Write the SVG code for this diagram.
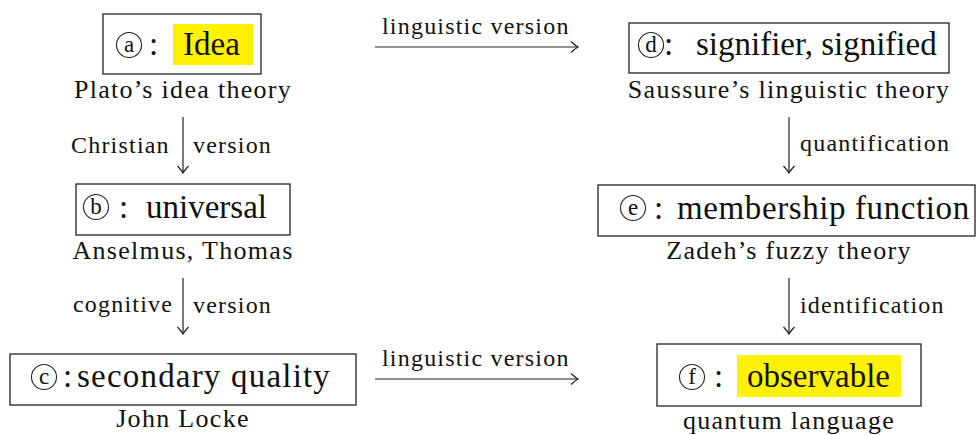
<svg xmlns="http://www.w3.org/2000/svg" width="976" height="435" viewBox="0 0 976 435">
<style>
.main{font-size:33px;font-family:"Liberation Serif",serif !important;fill:#111}
.sub{font-size:26px;text-anchor:middle;font-family:"Liberation Serif",serif !important;fill:#111;letter-spacing:1.3px}
.lbl{font-size:24px;font-family:"Liberation Serif",serif !important;fill:#111;letter-spacing:1.2px}
.cl{font-size:23px;text-anchor:middle;font-family:"Liberation Serif",serif !important;fill:#111}
.box{fill:#fff;stroke:#222;stroke-width:1.3}
.hl{fill:#fff200}
.circ{fill:none;stroke:#222;stroke-width:1.1}
.conn{stroke:#222;stroke-width:1.2;fill:none}
</style>
<defs>
<marker id="ah" markerUnits="userSpaceOnUse" markerWidth="16" markerHeight="16" viewBox="-10 -8 12 16" refX="0" refY="0" orient="auto">
<path d="M-7,-5.5 Q-2,-1 0,0 Q-2,1 -7,5.5" fill="none" stroke="#222" stroke-width="1.2"/>
</marker>
</defs>
<g font-family="Liberation Serif">
<g id="connectors">
<line class="conn" x1="375" y1="47" x2="578" y2="47" marker-end="url(#ah)"/>
<text class="lbl" font-family="Liberation Serif" x="382" y="34">linguistic version</text>
<line class="conn" x1="375" y1="379" x2="578" y2="379" marker-end="url(#ah)"/>
<text class="lbl" font-family="Liberation Serif" x="382" y="366">linguistic version</text>
<line class="conn" x1="183" y1="117" x2="183" y2="173" marker-end="url(#ah)"/>
<text class="lbl" font-family="Liberation Serif" x="71" y="153">Christian</text>
<text class="lbl" font-family="Liberation Serif" x="193" y="153">version</text>
<line class="conn" x1="183" y1="278" x2="183" y2="334" marker-end="url(#ah)"/>
<text class="lbl" font-family="Liberation Serif" x="73" y="312">cognitive</text>
<text class="lbl" font-family="Liberation Serif" x="193" y="313">version</text>
<line class="conn" x1="789" y1="117" x2="789" y2="173" marker-end="url(#ah)"/>
<text class="lbl" font-family="Liberation Serif" x="800" y="151">quantification</text>
<line class="conn" x1="789" y1="278" x2="789" y2="334" marker-end="url(#ah)"/>
<text class="lbl" font-family="Liberation Serif" x="800" y="313">identification</text>
</g>
<g id="node-a">
<rect class="box" x="103" y="14" width="158" height="60"/>
<rect class="hl" x="173" y="24" width="80" height="41"/>
<circle class="circ" cx="129" cy="45" r="12.5"/>
<text class="cl" font-family="Liberation Serif" x="129" y="52">a</text>
<text class="main" font-family="Liberation Serif" x="149" y="55">:</text>
<text class="main" font-family="Liberation Serif" x="183" y="55">Idea</text>
<text class="sub" font-family="Liberation Serif" x="183" y="98">Plato’s idea theory</text>
</g>
<g id="node-b">
<rect class="box" x="76" y="184" width="214" height="51"/>
<circle class="circ" cx="96" cy="207" r="12.5"/>
<text class="cl" font-family="Liberation Serif" x="96" y="214">b</text>
<text class="main" font-family="Liberation Serif" x="119" y="218">:</text>
<text class="main" font-family="Liberation Serif" x="146" y="218">universal</text>
<text class="sub" font-family="Liberation Serif" x="183" y="259">Anselmus, Thomas</text>
</g>
<g id="node-c">
<rect class="box" x="10" y="354" width="346" height="51"/>
<circle class="circ" cx="44" cy="377" r="12.5"/>
<text class="cl" font-family="Liberation Serif" x="44" y="384">c</text>
<text class="main" font-family="Liberation Serif" x="63" y="387">:</text>
<text class="main" font-family="Liberation Serif" x="77" y="387" style="letter-spacing:1.2px">secondary quality</text>
<text class="sub" font-family="Liberation Serif" x="183" y="427">John Locke</text>
</g>
<g id="node-d">
<rect class="box" x="629" y="23" width="320" height="50"/>
<circle class="circ" cx="651" cy="45" r="12.5"/>
<text class="cl" font-family="Liberation Serif" x="651" y="52">d</text>
<text class="main" font-family="Liberation Serif" x="664" y="55">:</text>
<text class="main" font-family="Liberation Serif" x="696" y="55">signifier, signified</text>
<text class="sub" font-family="Liberation Serif" x="789" y="98">Saussure’s linguistic theory</text>
</g>
<g id="node-e">
<rect class="box" x="598" y="185" width="377" height="51"/>
<circle class="circ" cx="633" cy="208" r="12.5"/>
<text class="cl" font-family="Liberation Serif" x="633" y="215">e</text>
<text class="main" font-family="Liberation Serif" x="654" y="219">:</text>
<text class="main" font-family="Liberation Serif" x="677" y="219" style="letter-spacing:0.6px">membership function</text>
<text class="sub" font-family="Liberation Serif" x="789" y="259">Zadeh’s fuzzy theory</text>
</g>
<g id="node-f">
<rect class="box" x="657" y="344" width="264" height="62"/>
<rect class="hl" x="737" y="355" width="164" height="42"/>
<circle class="circ" cx="692" cy="377" r="12.5"/>
<text class="cl" font-family="Liberation Serif" x="692" y="384">f</text>
<text class="main" font-family="Liberation Serif" x="714" y="387">:</text>
<text class="main" font-family="Liberation Serif" x="747" y="387">observable</text>
<text class="sub" font-family="Liberation Serif" x="789" y="429">quantum language</text>
</g>
</g>
</svg>
